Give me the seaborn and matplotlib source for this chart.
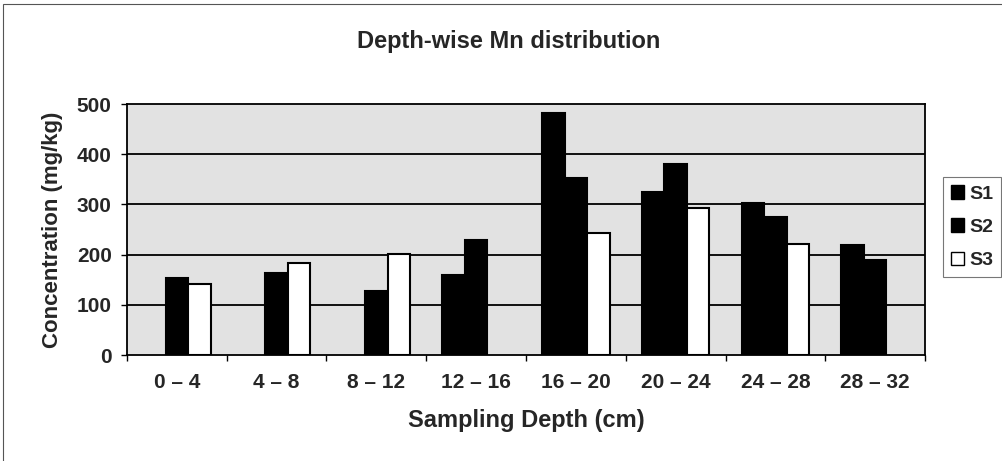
import numpy as np
import pandas as pd
import matplotlib
matplotlib.use("Agg")
import matplotlib.pyplot as plt
import seaborn as sns
from matplotlib.patches import Rectangle, Patch

depths = ["0 – 4", "4 – 8", "8 – 12", "12 – 16", "16 – 20", "20 – 24", "24 – 28", "28 – 32"]
s1 = [np.nan, np.nan, np.nan, 159, 483, 325, 302, 219]
s2 = [153, 164, 127, 230, 352, 380, 274, 189]
s3 = [141, 184, 201, np.nan, 244, 292, 221, np.nan]
series = ["S1", "S2", "S3"]
yticks = [0, 100, 200, 300, 400, 500]

df = pd.DataFrame({
    "depth": depths * 3,
    "series": ["S1"] * 8 + ["S2"] * 8 + ["S3"] * 8,
    "value": s1 + s2 + s3,
})

sns.set_theme(style="white")
plt.rcParams["font.family"] = ["Liberation Sans", "DejaVu Sans"]
plt.rcParams["font.weight"] = "bold"

fig = plt.figure(figsize=(10.02, 4.61), dpi=100)
ax = fig.add_axes([0.1267, 0.2299, 0.9232 - 0.1267, 0.7744 - 0.2299])
ax.set_facecolor("#e2e2e2")

palette = {"S1": "black", "S2": "black", "S3": "white"}
sns.barplot(data=df, x="depth", y="value", hue="series", order=depths,
            hue_order=series, palette=palette, width=0.675,
            edgecolor="black", linewidth=1.5, saturation=1, ax=ax,
            legend=False, zorder=3)

ax.set_ylim(0, 500)
ax.set_xlim(-0.5, len(depths) - 0.5)
ax.set_yticks(yticks)
ax.set_yticklabels([str(v) for v in yticks], fontsize=15, fontweight="bold")
ax.set_xticks(range(len(depths)))
ax.set_xticklabels(depths, fontsize=15, fontweight="bold")
ax.set_xticks(np.arange(-0.5, len(depths), 1), minor=True)
ax.tick_params(axis="x", which="major", length=0, pad=13)
ax.tick_params(axis="x", which="minor", length=4, width=1, color="black", direction="out", bottom=True)
ax.tick_params(axis="y", length=4, width=1, color="black", direction="out", left=True, pad=7)

for v in yticks[1:-1]:
    ax.axhline(v, color="black", linewidth=1.3, zorder=2)

for sp in ax.spines.values():
    sp.set_visible(True)
    sp.set_color("black")
    sp.set_linewidth(1.3)

ax.set_xlabel("Sampling Depth (cm)", fontsize=17, fontweight="bold", labelpad=12)
ax.set_ylabel("Concentration (mg/kg)", fontsize=16, fontweight="bold", labelpad=10)
fig.text(0.508, 0.91, "Depth-wise Mn distribution", ha="center", va="center",
         fontsize=17, fontweight="bold")

handles = [Patch(facecolor=palette[s], edgecolor="black", linewidth=1.0) for s in series]
leg = fig.legend(handles, series, loc="upper left", bbox_to_anchor=(0.941, 0.615),
                 borderaxespad=0, frameon=True, fancybox=False, handlelength=0.7,
                 handleheight=0.7, handletextpad=0.25, labelspacing=0.8,
                 borderpad=0.4, prop={"weight": "bold", "size": 14})
leg.get_frame().set_edgecolor("#555555")
leg.get_frame().set_linewidth(0.8)

fig.patches.append(Rectangle((0.003, -0.1), 1.2, 1.091, transform=fig.transFigure,
                             fill=False, edgecolor="#555555", linewidth=0.8))

fig.savefig("out.png", dpi=100, facecolor="white")
